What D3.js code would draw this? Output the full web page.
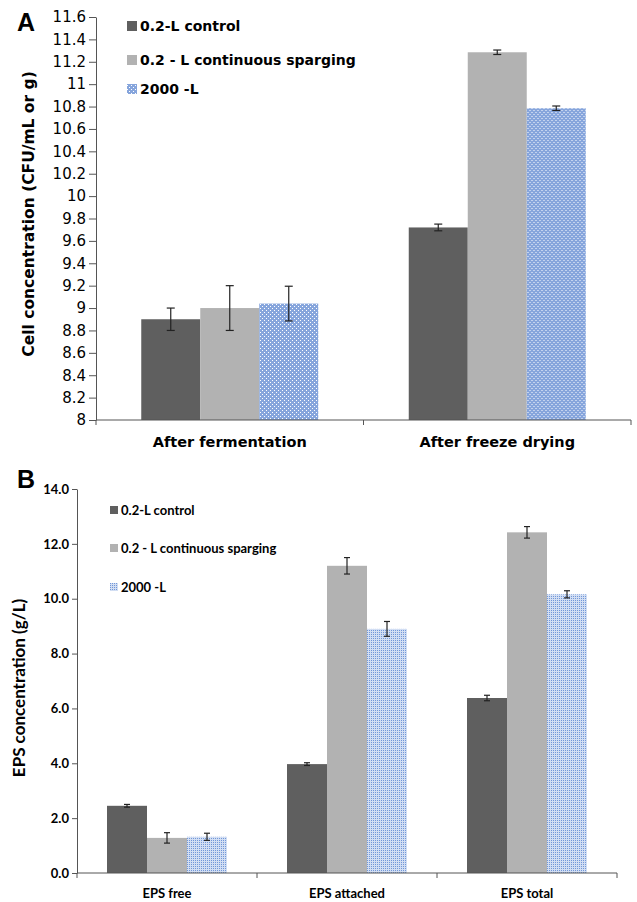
<!DOCTYPE html>
<html>
<head>
<meta charset="utf-8">
<script src="https://cdn.jsdelivr.net/npm/d3@7"></script>
<style>
  body { margin: 0; background: #fff; }
  svg { display: block; }
</style>
</head>
<body>
<div id="vis"></div>
<script>
// series shared by both panels
const series = ["0.2-L control", "0.2 - L continuous sparging", "2000 -L"];

// panel A: cell concentration
const catsA = ["After fermentation", "After freeze drying"];
const aControl = [8.90, 9.72];
const aControlErr = [0.10, 0.03];
const aSparging = [9.00, 11.285];
const aSpargingErr = [0.20, 0.02];
const aLarge = [9.04, 10.785];
const aLargeErr = [0.155, 0.02];
const ticksA = [8, 8.2, 8.4, 8.6, 8.8, 9, 9.2, 9.4, 9.6, 9.8, 10, 10.2, 10.4, 10.6, 10.8, 11, 11.2, 11.4, 11.6];

// panel B: EPS concentration
const catsB = ["EPS free", "EPS attached", "EPS total"];
const bControl = [2.45, 3.97, 6.38];
const bControlErr = [0.05, 0.05, 0.10];
const bSparging = [1.28, 11.2, 12.42];
const bSpargingErr = [0.19, 0.30, 0.21];
const bLarge = [1.32, 8.9, 10.16];
const bLargeErr = [0.13, 0.27, 0.13];
const ticksB = [0, 2, 4, 6, 8, 10, 12, 14];

const width = 637;
const height = 902;

const svg = d3.select('#vis')
  .append('svg')
  .attr('width', width)
  .attr('height', height);

// patterns for the 2000 -L bars
const defs = svg.append('defs');
const patA = defs.append('pattern')
  .attr('id', 'dotsA')
  .attr('width', 4).attr('height', 4)
  .attr('patternUnits', 'userSpaceOnUse');
patA.append('rect').attr('width', 4).attr('height', 4).attr('fill', '#86a5dc');
patA.append('rect').attr('x', 0).attr('y', 0).attr('width', 1).attr('height', 1).attr('fill', '#fff');
patA.append('rect').attr('x', 2).attr('y', 2).attr('width', 1).attr('height', 1).attr('fill', '#fff');

const patB = defs.append('pattern')
  .attr('id', 'dotsB')
  .attr('width', 2).attr('height', 2)
  .attr('patternUnits', 'userSpaceOnUse');
patB.append('rect').attr('width', 2).attr('height', 2).attr('fill', '#d2def3');
patB.append('rect').attr('width', 1).attr('height', 1).attr('fill', '#7197d8');

function drawPanel(opts) {
  const g = svg.append('g');
  const y = d3.scaleLinear().domain(opts.yDomain).range([opts.bottom, opts.top]);
  const x0 = d3.scaleBand().domain(opts.cats).range([opts.left, opts.right]);
  const x1 = d3.scaleBand().domain(series).range([0, x0.bandwidth()]).paddingOuter(opts.pad);
  const fills = ['#5f5f5f', '#b2b2b2', opts.pattern];

  // rows of data for each category
  const rows = opts.cats.map((c, i) => ({
    cat: c,
    vals: series.map((s, k) => ({ s: s, k: k, v: opts.values[k][i], e: opts.errors[k][i] }))
  }));

  const groups = g.selectAll('.grp')
    .data(rows)
    .enter()
    .append('g')
    .attr('transform', d => `translate(${x0(d.cat)},0)`);

  groups.selectAll('rect')
    .data(d => d.vals)
    .enter()
    .append('rect')
    .attr('x', d => x1(d.s))
    .attr('width', x1.bandwidth())
    .attr('y', d => y(d.v))
    .attr('height', d => y(opts.yDomain[0]) - y(d.v))
    .attr('fill', d => fills[d.k]);

  // error bars
  const err = groups.selectAll('.err')
    .data(d => d.vals)
    .enter()
    .append('g')
    .attr('stroke', '#222')
    .attr('stroke-width', 1.2);
  const cx = d => x1(d.s) + x1.bandwidth() / 2;
  err.append('line')
    .attr('x1', cx).attr('x2', cx)
    .attr('y1', d => y(d.v + d.e)).attr('y2', d => y(d.v - d.e));
  err.append('line')
    .attr('x1', d => cx(d) - opts.cap).attr('x2', d => cx(d) + opts.cap)
    .attr('y1', d => y(d.v + d.e)).attr('y2', d => y(d.v + d.e));
  err.append('line')
    .attr('x1', d => cx(d) - opts.cap).attr('x2', d => cx(d) + opts.cap)
    .attr('y1', d => y(d.v - d.e)).attr('y2', d => y(d.v - d.e));

  // y axis
  const yAxis = g.append('g')
    .attr('transform', `translate(${opts.left},0)`)
    .call(d3.axisLeft(y).tickValues(opts.ticks).tickFormat(opts.fmt).tickSize(opts.tickLen).tickSizeOuter(0));
  yAxis.select('.domain').attr('stroke', '#555');
  yAxis.selectAll('.tick line').attr('stroke', '#555');
  yAxis.selectAll('.tick text')
    .attr('font-family', opts.tickFont)
    .attr('font-size', opts.tickSize)
    .attr('font-weight', opts.tickWeight)
    .attr('fill', '#000');

  // x axis: line, boundary ticks, centred labels
  const base = y(opts.yDomain[0]);
  g.append('line')
    .attr('x1', opts.left).attr('x2', opts.right)
    .attr('y1', base).attr('y2', base)
    .attr('stroke', '#555');
  const bounds = opts.cats.map(c => x0(c)).concat([opts.right]);
  g.selectAll('.xtick')
    .data(bounds)
    .enter()
    .append('line')
    .attr('x1', d => d).attr('x2', d => d)
    .attr('y1', base).attr('y2', base + 5)
    .attr('stroke', '#555');
  g.selectAll('.xlab')
    .data(opts.cats)
    .enter()
    .append('text')
    .attr('x', d => x0(d) + x0.bandwidth() / 2)
    .attr('y', opts.labelY)
    .attr('text-anchor', 'middle')
    .attr('font-family', opts.labFont)
    .attr('font-weight', 'bold')
    .attr('font-size', opts.labSize)
    .text(d => d);

  // axis title
  g.append('text')
    .attr('transform', `translate(${opts.titleX},${opts.titleY}) rotate(-90)`)
    .attr('text-anchor', 'middle')
    .attr('font-family', opts.titleFont)
    .attr('font-weight', 'bold')
    .attr('font-size', opts.titleSize)
    .text(opts.title);

  // legend
  const leg = g.selectAll('.leg')
    .data(series)
    .enter()
    .append('g')
    .attr('transform', (d, i) => `translate(${opts.legX},${opts.legY[i]})`);
  leg.append('rect')
    .attr('x', 0).attr('y', -opts.sw / 2)
    .attr('width', opts.sw).attr('height', opts.sw)
    .attr('fill', (d, i) => fills[i]);
  leg.append('text')
    .attr('x', opts.sw + 3)
    .attr('dy', '0.36em')
    .attr('font-family', opts.labFont)
    .attr('font-weight', 'bold')
    .attr('font-size', opts.legSize)
    .text(d => d);

  // panel letter
  g.append('text')
    .attr('x', 17).attr('y', opts.letterY)
    .attr('font-family', 'Liberation Sans, Arial, sans-serif')
    .attr('font-weight', 'bold')
    .attr('font-size', 25)
    .text(opts.letter);
}

drawPanel({
  letter: 'A', letterY: 31,
  cats: catsA,
  values: [aControl, aSparging, aLarge],
  errors: [aControlErr, aSpargingErr, aLargeErr],
  yDomain: [8, 11.6], ticks: ticksA,
  fmt: d => String(+d.toFixed(1)),
  top: 17, bottom: 420, left: 96, right: 631, pad: 0.767, cap: 4,
  pattern: 'url(#dotsA)',
  tickLen: 7, tickFont: 'DejaVu Sans, Verdana, sans-serif', tickSize: 15, tickWeight: 'normal',
  labFont: 'DejaVu Sans, Verdana, sans-serif', labSize: 14.5, labelY: 447,
  legSize: 14, legX: 127, legY: [26, 60, 89], sw: 10,
  title: 'Cell concentration (CFU/mL or g)', titleFont: 'DejaVu Sans, Verdana, sans-serif',
  titleSize: 15.5, titleX: 34, titleY: 214
});

drawPanel({
  letter: 'B', letterY: 488,
  cats: catsB,
  values: [bControl, bSparging, bLarge],
  errors: [bControlErr, bSpargingErr, bLargeErr],
  yDomain: [0, 14], ticks: ticksB,
  fmt: d3.format('.1f'),
  top: 489, bottom: 873, left: 77, right: 617, pad: 0.75, cap: 3,
  pattern: 'url(#dotsB)',
  tickLen: 5, tickFont: 'Lato, sans-serif', tickSize: 13, tickWeight: 'bold',
  labFont: 'Lato, sans-serif', labSize: 13, labelY: 898,
  legSize: 13, legX: 110, legY: [510, 548, 587], sw: 8,
  title: 'EPS concentration (g/L)', titleFont: 'Lato, sans-serif',
  titleSize: 17, titleX: 25, titleY: 688
});
</script>
</body>
</html>
